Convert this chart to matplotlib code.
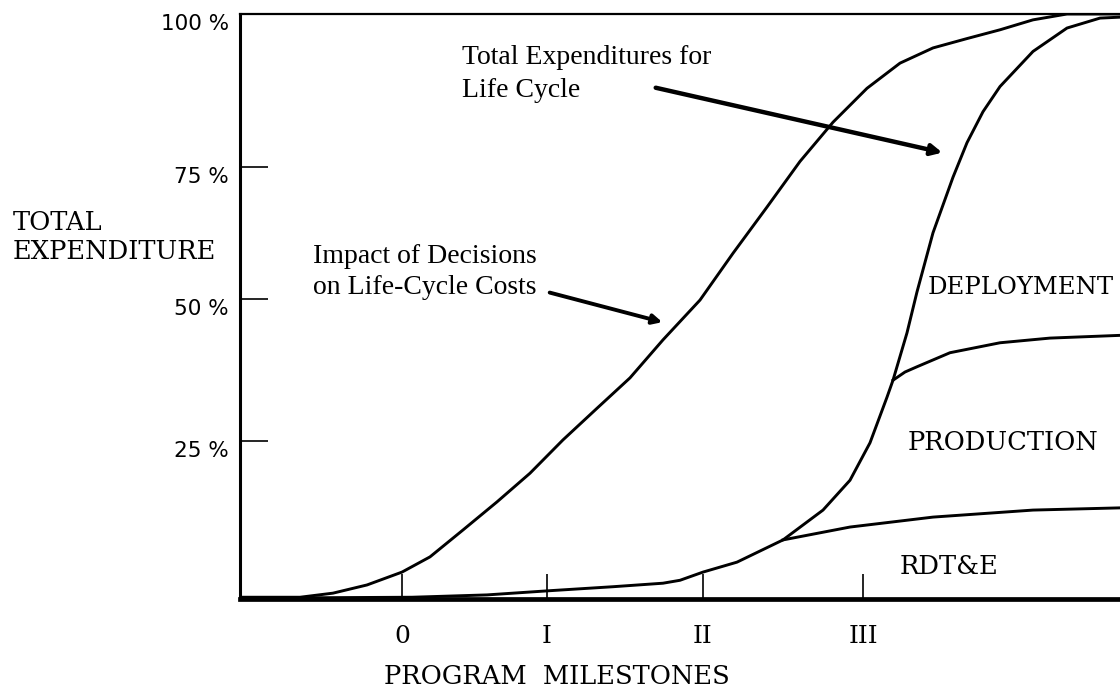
import matplotlib
matplotlib.use('Agg')
import matplotlib.pyplot as plt
from matplotlib.transforms import ScaledTranslation

# program time axis (arbitrary units) and % of total expenditure
impact_x = [0, 6, 9.3, 12.7, 16.2, 19, 22.3, 25.7, 29, 32.3, 35.7, 39, 42.3, 46,
            49.3, 52.7, 56, 59.3, 62.7, 66, 69.3, 72.7, 76, 79.3, 82.7, 88.5]
impact_y = [0.3, 0.3, 1.0, 2.4, 4.6, 7.2, 11.8, 16.6, 21.5, 27.2, 32.6, 37.8, 44.3, 51.1,
            59.1, 67.0, 74.8, 81.5, 87.3, 91.6, 94.2, 95.8, 97.3, 99.0, 100, 100]

total_x = [0, 6, 17.2, 24.7, 30.8, 37.3, 42.3, 44, 46.3, 49.7, 54.3, 58.3, 61, 63, 64.7,
           65.3, 66.7, 67.7, 69.3, 71.3, 72.7, 74.3, 76, 79.3, 82.7, 86, 88.5]
total_y = [0.2, 0.2, 0.3, 0.7, 1.4, 2.1, 2.7, 3.2, 4.6, 6.3, 10.1, 15.2, 20.3, 26.7, 34.5,
           37.4, 45.5, 52.5, 62.6, 72.1, 78.0, 83.3, 87.6, 93.6, 97.6, 99.3, 99.5]

production_x = [65.3, 66.5, 67.7, 71, 76, 81, 88.5]
production_y = [37.4, 38.8, 39.7, 42.1, 43.8, 44.6, 45.1]

rdte_x = [54.3, 61, 69.3, 79.3, 88.5]
rdte_y = [10.1, 12.3, 14.0, 15.2, 15.6]

milestone_pos = [16.2, 30.7, 46.3, 62.3]
milestone_labels = ['0', 'I', 'II', 'III']
pct_pos = [27.0, 51.3, 73.8, 100]
pct_labels = ['25 %', '50 %', '75 %', '100 %']

W, H = 1120, 693
fig = plt.figure(figsize=(W / 100, H / 100), dpi=100)
ax = fig.add_axes([240 / W, 94 / H, 885 / W, 585 / H])
ax.set_xlim(0, 88.5)
ax.set_ylim(0, 100)

lw = 2.1
ax.plot(impact_x, impact_y, color='black', lw=lw)
ax.plot(total_x, total_y, color='black', lw=lw)
ax.plot(production_x, production_y, color='black', lw=lw)
ax.plot(rdte_x, rdte_y, color='black', lw=lw)

# spines
ax.spines['right'].set_visible(False)
ax.spines['left'].set_linewidth(2.2)
ax.spines['bottom'].set_linewidth(3.4)
ax.spines['top'].set_linewidth(1.6)

ax.set_xticks(milestone_pos)
ax.set_xticklabels(milestone_labels, family='DejaVu Serif', fontsize=18)
ax.tick_params(axis='x', direction='in', length=18, width=1.2, pad=19)

ax.set_yticks(pct_pos)
ax.set_yticklabels(pct_labels, family='DejaVu Sans', fontsize=15.5)
ax.tick_params(axis='y', direction='in', length=20, width=1.2, pad=8)
for lab in ax.get_yticklabels():
    lab.set_transform(lab.get_transform() + ScaledTranslation(0, -0.08, fig.dpi_scale_trans))

# annotations
ann = dict(family='Liberation Serif', fontsize=20, va='center', ha='left')
ax.text(22.2, 92.5, 'Total Expenditures for', **ann)
ax.text(22.2, 87.0, 'Life Cycle', **ann)
ax.text(7.3, 58.5, 'Impact of Decisions', **ann)
ax.text(7.3, 53.3, 'on Life-Cycle Costs', **ann)

ax.annotate('', xy=(70.5, 76.2), xytext=(41.3, 87.5),
            arrowprops=dict(arrowstyle='-|>', lw=3.2, color='black', mutation_scale=16))
ax.annotate('', xy=(42.5, 47.2), xytext=(30.7, 52.5),
            arrowprops=dict(arrowstyle='-|>', lw=2.8, color='black', mutation_scale=14))

caps = dict(family='DejaVu Serif', fontsize=18.5, va='center', ha='left')
ax.text(68.8, 53.3, 'DEPLOYMENT', **dict(caps, fontsize=17.5))
ax.text(66.8, 26.7, 'PRODUCTION', **caps)
ax.text(66.0, 5.5, 'RDT&E', **caps)

fig.text(13 / W, 1 - 237 / H, 'TOTAL\nEXPENDITURE', family='DejaVu Serif', fontsize=18.5,
         ha='left', va='center', linespacing=1.2)
fig.text(557 / W, 1 - 677 / H, 'PROGRAM  MILESTONES', family='DejaVu Serif', fontsize=18.5,
         ha='center', va='center')

fig.savefig('out.png', dpi=100)
